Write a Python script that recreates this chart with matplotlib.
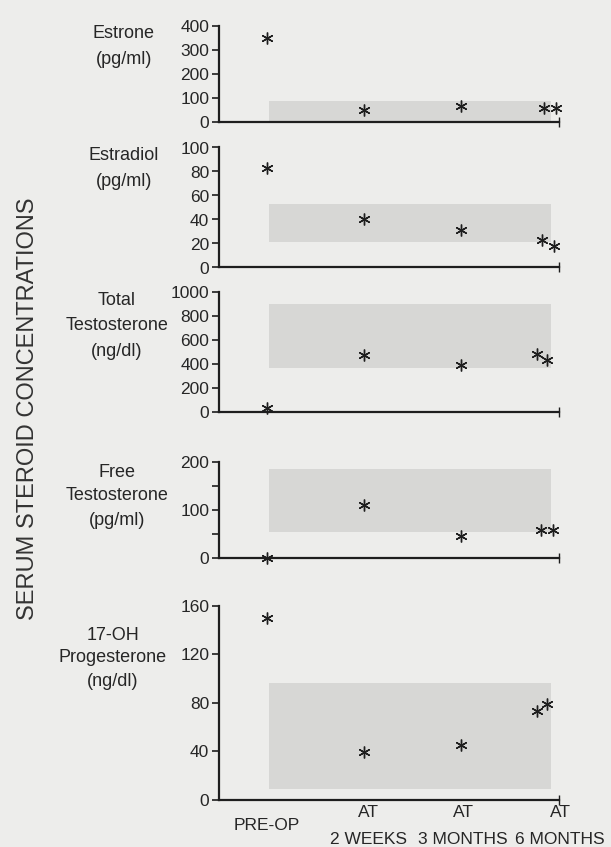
import matplotlib
matplotlib.use("Agg")
import matplotlib.pyplot as plt
from matplotlib.patches import Rectangle

plt.rcParams['font.family'] = ['Liberation Sans', 'DejaVu Sans']

# ---------------- data ----------------
time_labels = ["PRE-OP", "AT\n2 WEEKS", "AT\n3 MONTHS", "AT\n6 MONTHS"]

panel_names = ["Estrone\n(pg/ml)", "Estradiol\n(pg/ml)", "Total\nTestosterone\n(ng/dl)",
               "Free\nTestosterone\n(pg/ml)", "17-OH\nProgesterone\n(ng/dl)"]

# time positions of the measurements (pre-op, 2 wk, 3 mo, two 6-mo values)
estrone_x = [0, 1, 2, 2.85, 2.98]
estrone_y = [350, 51, 68, 57, 57]
estrone_range = [5, 89]

estradiol_x = [0, 1, 2, 2.83, 2.96]
estradiol_y = [83, 40, 31.5, 23, 18]
estradiol_range = [21, 52.5]

total_t_x = [0, 1, 2, 2.78, 2.89]
total_t_y = [36, 471, 388, 482, 435]
total_t_range = [366, 904]

free_t_x = [0, 1, 2, 2.82, 2.95]
free_t_y = [0, 109, 44, 58, 58]
free_t_range = [54, 186]

ohp_x = [0, 1, 2, 2.78, 2.89]
ohp_y = [150, 39, 45, 73.5, 79]
ohp_range = [9, 96]

panels = [
    (estrone_x, estrone_y, estrone_range, 400, [0, 100, 200, 300, 400], []),
    (estradiol_x, estradiol_y, estradiol_range, 100, [0, 20, 40, 60, 80, 100], []),
    (total_t_x, total_t_y, total_t_range, 1000, [0, 200, 400, 600, 800, 1000], []),
    (free_t_x, free_t_y, free_t_range, 200, [0, 100, 200], [50, 150]),
    (ohp_x, ohp_y, ohp_range, 160, [0, 40, 80, 120, 160], []),
]

# ---------------- layout (pixels of 611x847 figure) ----------------
W, H = 611, 847
bg = '#ededeb'
fig = plt.figure(figsize=(W / 100, H / 100), dpi=100, facecolor=bg)

left_px, right_px = 219, 559
panel_px = [(26, 122), (147.5, 267.5), (292, 412), (462, 557.5), (606, 799.5)]
label_x = [124, 124, 117, 117, 113]
label_first_y = [33, 156, 300, 472, 635]
label_step = [26.5, 26, 25.5, 24, 23]

xlim = (-0.5, 3.01)
band_x = (0.02, 2.93)
ink = '#1e1e1e'
txt = '#262626'

for i, ((xs, ys, rng, ymax, ticks, minor), (top, bot)) in enumerate(zip(panels, panel_px)):
    ax = fig.add_axes([left_px / W, 1 - bot / H, (right_px - left_px) / W, (bot - top) / H])
    ax.set_facecolor('none')
    ax.set_xlim(*xlim)
    ax.set_ylim(0, ymax)
    ax.add_patch(Rectangle((band_x[0], rng[0]), band_x[1] - band_x[0], rng[1] - rng[0],
                           facecolor='#d7d7d5', edgecolor='none', zorder=0))
    ax.plot(xs, ys, linestyle='none', marker=(6, 2, 0), markersize=8.5,
            markeredgewidth=1.0, color=ink, zorder=3, clip_on=False)
    for s in ['top', 'right']:
        ax.spines[s].set_visible(False)
    for s in ['left', 'bottom']:
        ax.spines[s].set_color(ink)
        ax.spines[s].set_linewidth(1.6)
    ax.set_yticks(ticks)
    ax.set_yticks(minor, minor=True)
    ax.tick_params(axis='y', which='both', direction='out', length=5, width=1.2,
                   colors=ink, labelsize=12.5, pad=2)
    ax.tick_params(axis='y', labelcolor=txt)
    ax.set_xticks([xlim[1]])
    ax.set_xticklabels([''])
    ax.tick_params(axis='x', direction='inout', length=7, width=1.0, colors=ink)
    if i == 4:
        fig.text(267 / W, 1 - 825 / H, time_labels[0], ha='center', va='center',
                 fontsize=12.5, color=txt)
        for cx, lab in zip([368, 463, 560], time_labels[1:]):
            a, b = lab.split('\n')
            fig.text(cx / W, 1 - 812 / H, a, ha='center', va='center', fontsize=12.5, color=txt)
            fig.text(cx / W, 1 - 839 / H, b, ha='center', va='center', fontsize=12.5, color=txt)
    for j, line in enumerate(panel_names[i].split('\n')):
        fig.text(label_x[i] / W, 1 - (label_first_y[i] + j * label_step[i]) / H, line,
                 ha='center', va='center', fontsize=13, color=txt)

fig.text(28 / W, 1 - 409 / H, "SERUM STEROID CONCENTRATIONS", rotation=90,
         ha='center', va='center', fontsize=17, color='#333333')

fig.savefig('out.png', dpi=100, facecolor=bg)
